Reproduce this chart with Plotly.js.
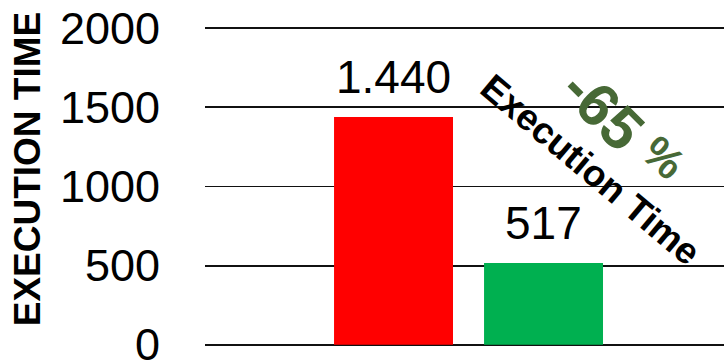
<!DOCTYPE html>
<html>
<head>
<meta charset="utf-8">
<script src="https://cdn.plot.ly/plotly-3.0.1.min.js"></script>
<style>html,body{margin:0;padding:0;background:#fff}#chart{width:724px;height:362px}</style>
</head>
<body>
<div id="chart"></div>
<script>
// ---- data ----
const categories = ["Before", "After"];
const executionTimes = [1440, 517];
const barColors = ["#FF0000", "#00B050"];
const yTickValues = [0, 500, 1000, 1500, 2000];
const yAxisTitle = "EXECUTION TIME";
const changeLabel = "Execution Time";
const changePercent = "-65";
const percentSign = "%";

function fmt(v) {
  return String(v).replace(/\B(?=(\d{3})+(?!\d))/g, ".");
}

const FONT = "Liberation Sans, Arial, sans-serif";

const trace = {
  type: "bar",
  x: categories,
  y: executionTimes,
  width: 0.793,
  marker: { color: barColors, line: { width: 0 } },
  hoverinfo: "none"
};

const annotations = categories.map((c, i) => ({
  x: c, y: executionTimes[i], xref: "x", yref: "y",
  text: fmt(executionTimes[i]),
  showarrow: false, xanchor: "center", yanchor: "bottom", yshift: 12,
  font: { family: FONT, size: 46, color: "#000" }
}));

annotations.push({
  xref: "paper", yref: "paper", x: -0.343, y: 0.557,
  text: yAxisTitle, textangle: -90, showarrow: false,
  xanchor: "center", yanchor: "middle",
  font: { family: FONT, size: 37, color: "#000", weight: "bold" }
});
annotations.push({
  xref: "paper", yref: "paper", x: 0.742, y: 0.552,
  text: changeLabel, textangle: 40, showarrow: false,
  xanchor: "center", yanchor: "middle",
  font: { family: FONT, size: 37, color: "#000", weight: "bold" }
});
annotations.push({
  xref: "paper", yref: "paper", x: 0.766, y: 0.74,
  text: changePercent, textangle: 45, showarrow: false,
  xanchor: "center", yanchor: "middle",
  font: { family: FONT, size: 60, color: "#476936", weight: "bold" }
});
annotations.push({
  xref: "paper", yref: "paper", x: 0.884, y: 0.59,
  text: percentSign, textangle: 42, showarrow: false,
  xanchor: "center", yanchor: "middle",
  font: { family: FONT, size: 44, color: "#476936", weight: "bold" }
});

const layout = {
  width: 724, height: 362,
  margin: { l: 205, r: 0, t: 27, b: 16, pad: 0 },
  paper_bgcolor: "#fff", plot_bgcolor: "#fff",
  showlegend: false,
  xaxis: {
    type: "category", categoryarray: categories, categoryorder: "array",
    range: [-1.2567, 2.203],
    showticklabels: false, showgrid: false, zeroline: false,
    showline: false, ticks: ""
  },
  yaxis: {
    range: [-8, 2008], tickvals: yTickValues, ticktext: yTickValues.map(String),
    showgrid: true, gridcolor: "#111", gridwidth: 1.8,
    zeroline: false, showline: false, ticks: "",
    ticklabelstandoff: 44, ticklabeloverflow: "allow",
    tickfont: { family: FONT, size: 45, color: "#000" }
  },
  annotations: annotations
};

Plotly.newPlot("chart", [trace], layout, { staticPlot: true, displayModeBar: false });
</script>
</body>
</html>
